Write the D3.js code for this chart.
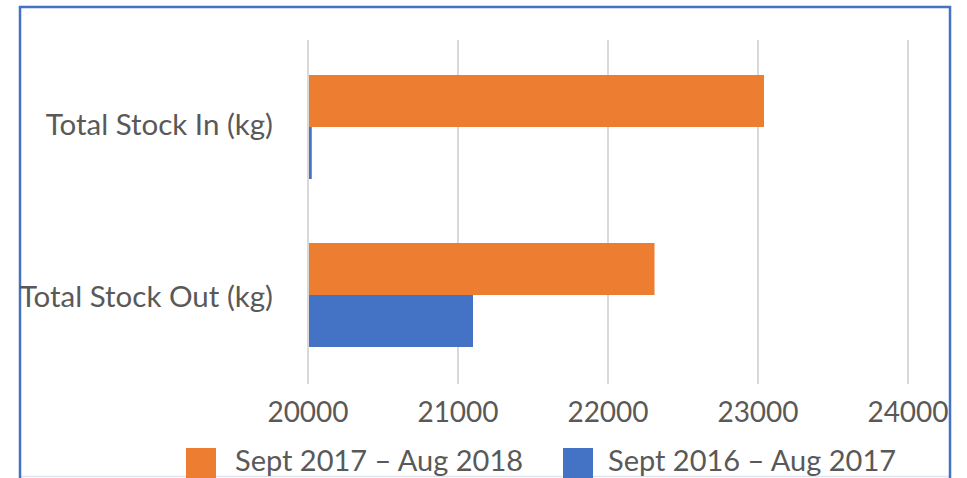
<!DOCTYPE html>
<html>
<head>
<meta charset="utf-8">
<script src="https://cdn.jsdelivr.net/npm/d3@7"></script>
<style>
  html, body { margin: 0; padding: 0; background: #fff; }
  svg { display: block; font-family: Lato, "Open Sans", sans-serif; }
</style>
</head>
<body>
<svg id="chart" width="967" height="478"></svg>
<script>
// Horizontal clustered bar chart: stock in / out, two periods.
const categories = ["Total Stock In (kg)", "Total Stock Out (kg)"];
const seriesNames = ["Sept 2017 – Aug 2018", "Sept 2016 – Aug 2017"];
const seriesColors = ["#ED7D31", "#4472C4"];
const values2018 = [23040, 22310]; // Sept 2017 – Aug 2018
const values2017 = [20025, 21100]; // Sept 2016 – Aug 2017
const xTicks = [20000, 21000, 22000, 23000, 24000];

const svg = d3.select("#chart");
const textColor = "#595959";

const x = d3.scaleLinear().domain([20000, 24000]).range([308, 908]);
const y = d3.scaleBand().domain(categories).range([43, 379])
  .paddingInner(0.381).paddingOuter(0.1905);
const ySub = d3.scaleBand().domain(seriesNames).range([0, y.bandwidth()]);

// frame
svg.append("rect").attr("x", 0).attr("y", 0).attr("width", 967).attr("height", 478).attr("fill", "#fff");
svg.append("line").attr("x1", 20).attr("x2", 950).attr("y1", 476.5).attr("y2", 476.5)
  .attr("stroke", "#dfe4f1").attr("stroke-width", 1.5);
svg.append("path").attr("d", "M20,478 V7 H950 V478")
  .attr("fill", "none").attr("stroke", "#4472C4").attr("stroke-width", 2.5);

// gridlines
svg.append("g").selectAll("line").data(xTicks).join("line")
  .attr("x1", d => x(d)).attr("x2", d => x(d))
  .attr("y1", 40).attr("y2", 384)
  .attr("stroke", "#D9D9D9").attr("stroke-width", 2);

// bars
const rows = categories.map((c, i) => ({ cat: c, vals: [values2018[i], values2017[i]] }));
const grp = svg.append("g").selectAll("g").data(rows).join("g")
  .attr("transform", d => `translate(0,${y(d.cat)})`);
grp.selectAll("rect").data(d => d.vals.map((v, j) => ({ v, s: seriesNames[j], c: seriesColors[j] })))
  .join("rect")
  .attr("x", x(20000) + 1)
  .attr("y", d => ySub(d.s))
  .attr("width", d => x(d.v) - x(20000) - 1)
  .attr("height", ySub.bandwidth())
  .attr("fill", d => d.c);

// category labels
const labelDy = [8, 12];
svg.append("g").selectAll("text").data(categories).join("text")
  .attr("x", 273).attr("y", (d, i) => y(d) + y.bandwidth() / 2 + labelDy[i])
  .attr("text-anchor", "end").attr("fill", textColor).attr("font-size", 29.5)
  .text(d => d);

// x tick labels
svg.append("g").selectAll("text").data(xTicks).join("text")
  .attr("x", d => x(d)).attr("y", 422)
  .attr("text-anchor", "middle").attr("fill", textColor).attr("font-size", 28)
  .text(d => d);

// legend
const legendX = [186, 563];
const legendTextDx = [49, 45];
const leg = svg.append("g").selectAll("g").data(seriesNames).join("g")
  .attr("transform", (d, i) => `translate(${legendX[i]},448)`);
leg.append("rect").attr("width", 30).attr("height", 30).attr("fill", (d, i) => seriesColors[i]);
leg.append("text").attr("x", (d, i) => legendTextDx[i]).attr("y", 23)
  .attr("fill", textColor).attr("font-size", 29)
  .text(d => d);
</script>
</body>
</html>
